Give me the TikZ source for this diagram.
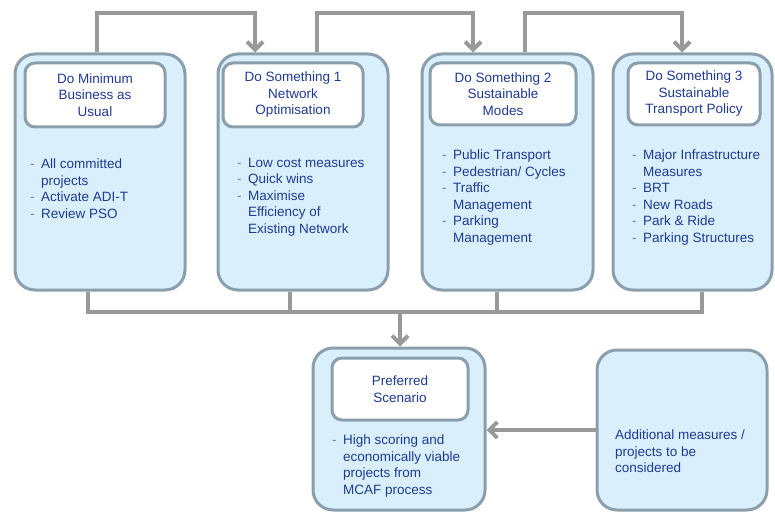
\documentclass[tikz,border=0pt]{standalone}
\usepackage{fontspec}
\setmainfont{Liberation Sans}
\usetikzlibrary{arrows.meta}
\definecolor{boxfill}{HTML}{D9F0FC}
\definecolor{boxline}{HTML}{8A9FAB}
\definecolor{conncol}{HTML}{999999}
\definecolor{txtcol}{HTML}{1F3A94}
\definecolor{dashcol}{HTML}{6A7FA8}
\newcommand{\dsh}{\makebox[11pt][l]{\textcolor{dashcol}{-}}}
\newcommand{\ind}{\hspace*{11pt}}
\begin{document}
\begin{tikzpicture}[x=1pt,y=-1pt,
  outerbox/.style={draw=boxline, fill=boxfill, line width=3pt, rounded corners=20pt, inner sep=0pt},
  headbox/.style={draw=boxline, fill=white, line width=3pt, rounded corners=10pt, align=center, inner sep=0pt, text=txtcol, font=\fontsize{13.5}{16.5}\selectfont},
  bodytext/.style={anchor=north west, align=left, inner sep=0pt, text=txtcol, font=\fontsize{13.5}{16.5}\selectfont},
  conn/.style={draw=conncol, line width=4pt},
  arr/.style={-{Straight Barb[length=8pt,width=16pt]}}]
\useasboundingbox (0,0) rectangle (775,513);
% main boxes
\node[outerbox, minimum width=170pt, minimum height=236pt] (b1) at (100,172) {};
\node[outerbox, minimum width=170pt, minimum height=236pt] (b2) at (303,172) {};
\node[outerbox, minimum width=171pt, minimum height=236pt] (b3) at (507.5,172) {};
\node[outerbox, minimum width=159pt, minimum height=236pt] (b4) at (692.5,172) {};
\node[outerbox, minimum width=172pt, minimum height=162pt] (pref) at (399,429) {};
\node[outerbox, minimum width=170pt, minimum height=160pt] (add) at (682,430) {};
% headers
\node[headbox, minimum width=140pt, minimum height=64pt] (h1) at (95,95) {Do Minimum\\Business as\\Usual};
\node[headbox, minimum width=140pt, minimum height=64pt] (h2) at (293,95) {Do Something 1\\Network\\Optimisation};
\node[headbox, minimum width=146pt, minimum height=62pt] (h3) at (503,94) {Do Something 2\\Sustainable\\Modes};
\node[headbox, minimum width=132pt, minimum height=62pt] (h4) at (694,94) {Do Something 3\\Sustainable\\Transport Policy};
\node[headbox, minimum width=136pt, minimum height=62pt] (hp) at (400,389) {Preferred\\Scenario};
% body texts
\node[bodytext] (t1) at (30,159) {\dsh All committed\\\ind projects\\\dsh Activate ADI-T\\\dsh Review PSO};
\node[bodytext] (t2) at (237,158) {\dsh Low cost measures\\\dsh Quick wins\\\dsh Maximise\\\ind Efficiency of\\\ind Existing Network};
\node[bodytext] (t3) at (442,150) {\dsh Public Transport\\\dsh Pedestrian/ Cycles\\\dsh Traffic\\\ind Management\\\dsh Parking\\\ind Management};
\node[bodytext] (t4) at (632,150) {\dsh Major Infrastructure\\\ind Measures\\\dsh BRT\\\dsh New Roads\\\dsh Park \& Ride\\\dsh Parking Structures};
\node[bodytext] (tp) at (332,435) {\dsh High scoring and\\\ind economically viable\\\ind projects from\\\ind MCAF process};
\node[bodytext] (ta) at (615,430) {Additional measures /\\projects to be\\considered};
% top connectors
\coordinate (u1) at (97,13);  \coordinate (v1) at (255,13);
\coordinate (u2) at (317,13); \coordinate (v2) at (473,13);
\coordinate (u3) at (525,13); \coordinate (v3) at (682,13);
\draw[conn, arr] (b1.north -| u1) |- (v1) -- (b2.north -| v1);
\draw[conn, arr] (b2.north -| u2) |- (v2) -- (b3.north -| v2);
\draw[conn, arr] (b3.north -| u3) |- (v3) -- (b4.north -| v3);
% bottom connectors
\coordinate (d1) at (88,312);  \coordinate (d2) at (290,312);
\coordinate (d3) at (497,312); \coordinate (d4) at (702,312);
\coordinate (dm) at (400,312);
\draw[conn] (b1.south -| d1) -- (d1) -- (d4) -- (b4.south -| d4);
\draw[conn] (b2.south -| d2) -- (d2);
\draw[conn] (b3.south -| d3) -- (d3);
\draw[conn, arr] (dm) -- (pref.north -| dm);
\draw[conn, arr] (add.west) -- (pref.east |- add.west);
\end{tikzpicture}
\end{document}
